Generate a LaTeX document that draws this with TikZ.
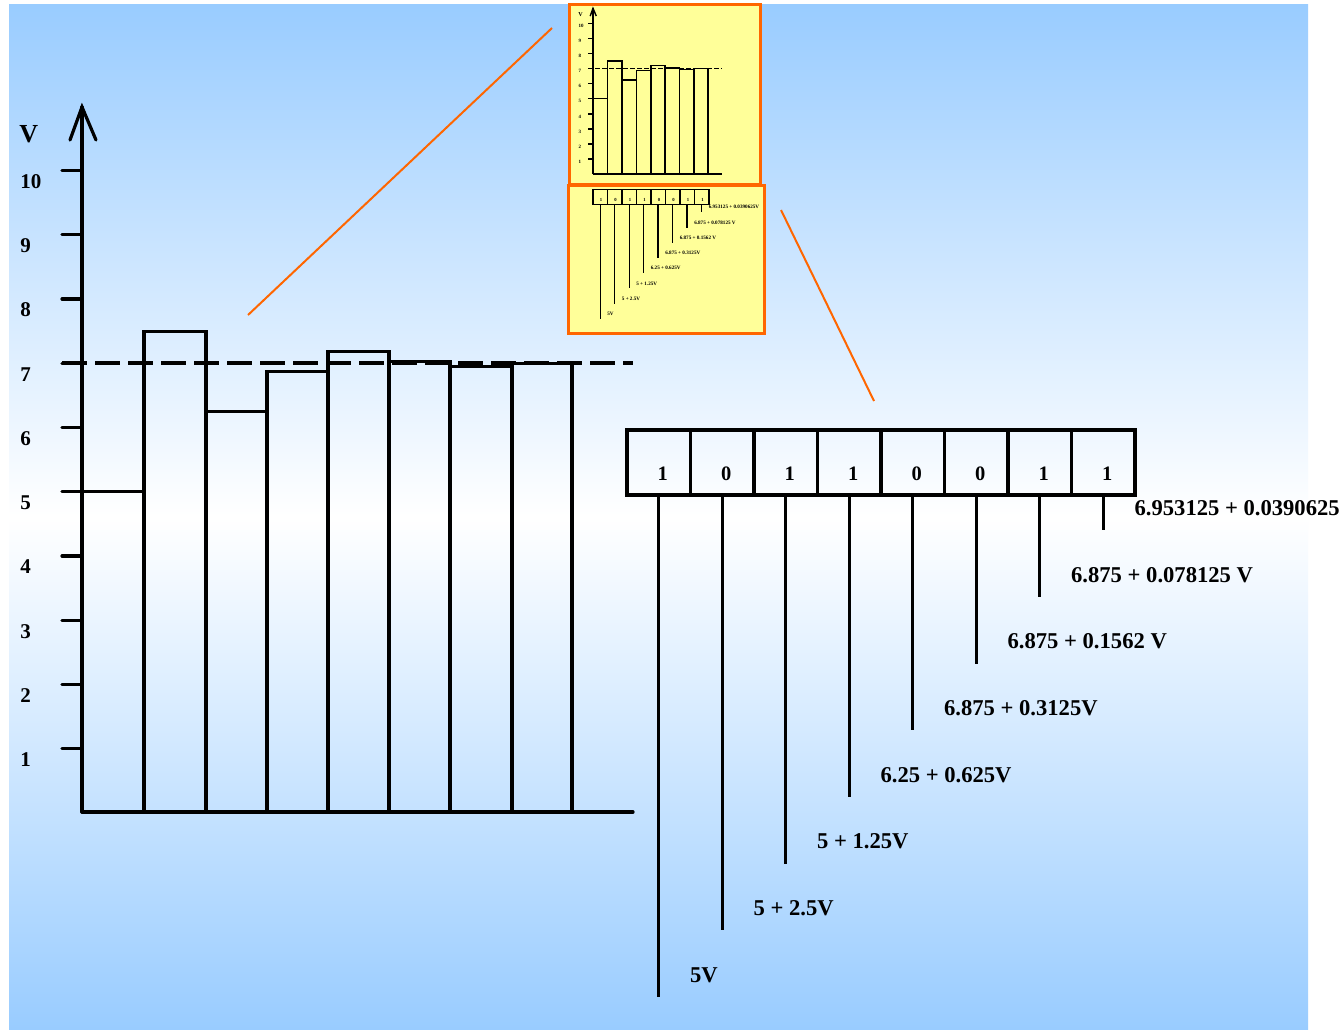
\documentclass[tikz,border=0pt]{standalone}
\usepackage{fontspec}
\setmainfont{Liberation Serif}
\definecolor{skyblue}{RGB}{153,204,255}
\definecolor{zoomorange}{RGB}{255,102,0}
\definecolor{panelyellow}{RGB}{255,255,153}

% Staircase chart of the successive-approximation steps (coordinates in px, y down)
\newcommand\drawadcchart{%
  \draw[chartline] (82,812) -- (82,107);
  \draw[chartline] (70,140) -- (82,107) -- (96,140);
  \node[axislabel] (vname) at (19,134) {V};
  \foreach \v in {1,...,10} {
    \pgfmathsetmacro\ty{813-64.25*\v}
    \draw[chartline] (62,\ty) -- (82,\ty);
    \node[ticklabel] (tick\v) at (20,\ty+11) {\v};
  }
  \draw[chartline] (82,491.75) -- (144,491.75);
  \foreach \xa/\xb/\v in {144/206/7.5, 206/267/6.25, 267/328/6.875,
                          328/389/7.1875, 389/450/7.03125, 450/512/6.953125,
                          512/572/6.9921875}
    \draw[chartline] (\xa,812) rectangle (\xb,{813-64.25*\v});
  \draw[chartline] (82,812) -- (633,812);
  \draw[levelline] (62,363.25) -- (633,363.25);
}

% Eight-bit result register with the running sums hanging from each bit
\newcommand\drawbitregister[1]{%
  \foreach \i/\d/\t in {1/1/5V, 2/0/5 + 2.5V, 3/1/5 + 1.25V, 4/1/6.25 + 0.625V,
                        5/0/6.875 + 0.3125V, 6/0/6.875 + 0.1562 V,
                        7/1/6.875 + 0.078125 V, 8/1/{#1}} {
    \pgfmathsetmacro\cx{658.75+63.5*(\i-1)}
    \pgfmathsetmacro\by{997-66.7*(\i-1)}
    \node[bitcell] (cell\i) at (\cx,462.5) {};
    \node[bitdigit] (digit\i) at (\cx+4,474) {\d};
    \coordinate (lead\i) at (\cx,\by);
    \draw[bitlead] (cell\i.south) -- (lead\i);
    \node[sumlabel] (sum\i) at (\cx+31,\by-22) {\t};
  }
}

\begin{document}
\begin{tikzpicture}[x=0.5pt,y=-0.5pt,
  chartline/.style={line width=1.6pt, line cap=round},
  levelline/.style={line width=2pt, dash pattern=on 12.5pt off 4pt},
  bitcell/.style={draw, line width=1.6pt, minimum width=31.75pt,
                  minimum height=32.5pt, inner sep=0pt, outer sep=0pt},
  bitlead/.style={line width=1.6pt},
  ticklabel/.style={anchor=west, inner sep=0pt,
                    font=\fontsize{10.5}{12}\selectfont\bfseries},
  axislabel/.style={anchor=west, inner sep=0pt,
                    font=\fontsize{13}{15}\selectfont\bfseries},
  bitdigit/.style={inner sep=0pt, font=\fontsize{10.25}{12}\selectfont\bfseries},
  sumlabel/.style={anchor=west, inner sep=0pt,
                   font=\fontsize{11.3}{13}\selectfont\bfseries},
  zoomframe/.style={draw=zoomorange, fill=panelyellow, line width=1.5pt,
                    inner sep=0pt, outer sep=0pt},
  zoomray/.style={draw=zoomorange, line width=1pt},
]
\useasboundingbox (0,0) rectangle (1342,1029);
\fill[white] (0,0) rectangle (1342,1029);
\shade[top color=skyblue, bottom color=skyblue, middle color=white]
  (9,4) rectangle (1308,1029);

% zoom rays towards the miniature panels
\coordinate (rayA1) at (248,315);
\coordinate (rayA2) at (552,28);
\coordinate (rayB1) at (781,210);
\coordinate (rayB2) at (874,401);
\draw[zoomray] (rayA1) -- (rayA2);
\draw[zoomray] (rayB1) -- (rayB2);

% miniature panels
\node[zoomframe, minimum width=95.5pt, minimum height=90pt] (panelchart) at (664.5,94.5) {};
\node[zoomframe, minimum width=98pt, minimum height=73.75pt] (panelbits) at (666.5,259.25) {};

\begin{scope}[shift={(593-82*0.235,174-812*0.235)}, scale=0.235, transform shape,
  name prefix=mini-,
  chartline/.style={line width=0.7pt},
  levelline/.style={line width=0.7pt, dash pattern=on 2.5pt off 1pt}]
  \drawadcchart
\end{scope}

\begin{scope}[shift={(593-627*0.228,189.5-430*0.228)}, scale=0.228, transform shape,
  name prefix=mini-,
  bitcell/.style={draw, line width=0.7pt, minimum width=31.75pt,
                  minimum height=32.5pt, inner sep=0pt, outer sep=0pt},
  bitlead/.style={line width=0.7pt}]
  \drawbitregister{6.953125 + 0.0390625V}
\end{scope}

% full-size chart and register
\drawadcchart
\drawbitregister{6.953125 + 0.0390625}
\end{tikzpicture}
\end{document}
